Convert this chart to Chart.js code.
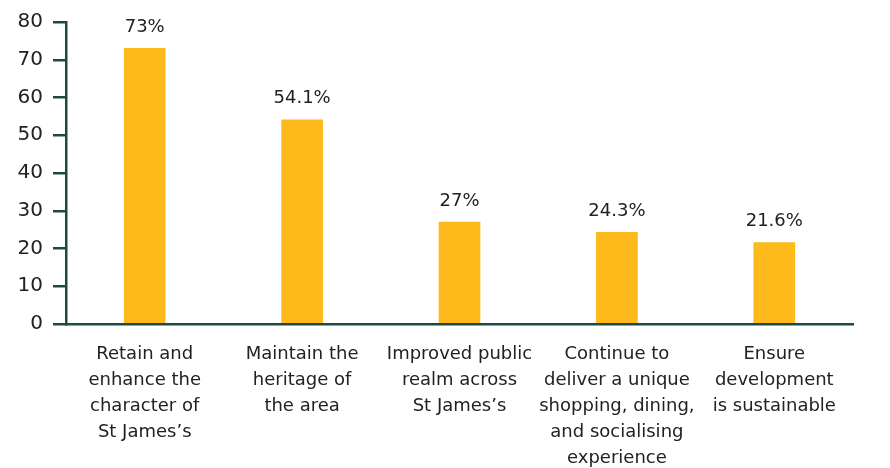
<!DOCTYPE html>
<html>
<head>
<meta charset="utf-8">
<style>
    html, body { margin: 0; padding: 0; background: #ffffff; }
    #wrap { width: 890px; height: 468px; position: relative; }
</style>
</head>
<body>
<div id="wrap"><canvas id="chart"></canvas></div>
<script src="https://cdn.jsdelivr.net/npm/chart.js@4.4.0/dist/chart.umd.min.js"></script>
<script>
// --- data ---
const categories = [
    ['Retain and', 'enhance the', 'character of', 'St James\u2019s'],
    ['Maintain the', 'heritage of', 'the area'],
    ['Improved public', 'realm across', 'St James\u2019s'],
    ['Continue to', 'deliver a unique', 'shopping, dining,', 'and socialising', 'experience'],
    ['Ensure', 'development', 'is sustainable']
];
const shares = [73, 54.1, 27, 24.3, 21.6];
const yTicks = [0, 10, 20, 30, 40, 50, 60, 70, 80];

const BAR = '#FDBA1A';
const AXIS = '#1d4a44';
const TEXT = '#222222';
const FONT = '"DejaVu Sans", sans-serif';

// percent labels over each bar
const valueLabels = {
    id: 'valueLabels',
    afterDatasetsDraw(chart) {
        const ctx = chart.ctx;
        const meta = chart.getDatasetMeta(0);
        ctx.save();
        ctx.font = '18px ' + FONT;
        ctx.fillStyle = TEXT;
        ctx.textAlign = 'center';
        ctx.textBaseline = 'bottom';
        meta.data.forEach(function (bar, i) {
            ctx.fillText(shares[i] + '%', bar.x, bar.y - 12);
        });
        ctx.restore();
    }
};

const ctx = document.getElementById('chart').getContext('2d');
new Chart(ctx, {
    type: 'bar',
    data: {
        labels: categories,
        datasets: [{
            data: shares,
            backgroundColor: BAR,
            borderWidth: 0,
            barThickness: 41
        }]
    },
    options: {
        responsive: true,
        maintainAspectRatio: false,
        animation: false,
        layout: { padding: { top: 18, right: 37, left: 0, bottom: 0 } },
        plugins: {
            legend: { display: false },
            tooltip: { enabled: false }
        },
        scales: {
            x: {
                grid: { display: false },
                border: { display: true, color: AXIS, width: 2.5 },
                afterFit: function (s) { s.height = 144; },
                ticks: {
                    color: TEXT,
                    padding: 9,
                    autoSkip: false,
                    maxRotation: 0,
                    font: { family: FONT, size: 18, lineHeight: 26 / 18 }
                }
            },
            y: {
                min: 0,
                max: 80,
                afterFit: function (s) { s.width = 66; },
                afterBuildTicks: function (s) { s.ticks = yTicks.map(function (v) { return { value: v }; }); },
                grid: {
                    drawOnChartArea: false,
                    drawTicks: true,
                    tickLength: 13,
                    color: AXIS,
                    lineWidth: 2.5
                },
                border: { display: true, color: AXIS, width: 2.5 },
                ticks: {
                    color: TEXT,
                    padding: 10,
                    font: { family: FONT, size: 20 }
                }
            }
        }
    },
    plugins: [valueLabels]
});
</script>
</body>
</html>
